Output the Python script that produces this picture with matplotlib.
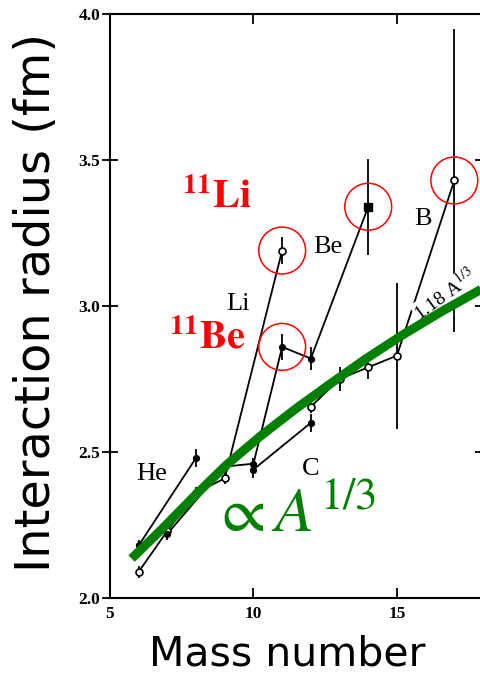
import numpy as np
import matplotlib
matplotlib.use("Agg")
import matplotlib.pyplot as plt

plt.rcParams["mathtext.fontset"] = "stix"

# interaction radii (fm) by isotope chain, read per mass number
he_A = [6, 8]
he_R = [2.18, 2.48]
he_err = [0.02, 0.03]

li_A = [6, 7, 8, 9, 11]
li_R = [2.09, 2.23, 2.36, 2.41, 3.19]
li_err = [0.02, 0.02, 0.02, 0.02, 0.045]

be_A = [7, 9, 10, 11, 12, 14]
be_R = [2.22, 2.45, 2.46, 2.86, 2.82, 3.34]
be_err = [0.02, 0.02, 0.02, 0.045, 0.04, 0.165]

b_A = [12, 13, 14, 15, 17]
b_R = [2.655, 2.75, 2.79, 2.83, 3.43]
b_err = [0.02, 0.04, 0.04, 0.25, 0.52]

c_A = [10, 12]
c_R = [2.44, 2.60]
c_err = [0.03, 0.03]

# halo nuclei picked out with red rings
halo = [(li_A[4], li_R[4]), (be_A[5], be_R[5]), (b_A[4], b_R[4]), (be_A[3], be_R[3])]

# hand-drawn A^(1/3) guide
guide_A = [5.75, 6.75, 7.9, 9.05, 10.25, 11.5, 12.7, 13.9, 15.1, 16.5, 17.95]
guide_R = [2.135, 2.23, 2.345, 2.455, 2.555, 2.65, 2.735, 2.818, 2.895, 2.978, 3.058]

x_ticks = [5, 10, 15]
y_ticks = [2.0, 2.5, 3.0, 3.5, 4.0]

fig = plt.figure(figsize=(4.81, 6.75), dpi=100)
ax = fig.add_axes([110 / 481, 77 / 675, 373 / 481, 584 / 675])
ax.set_xlim(5, 18)
ax.set_ylim(2.0, 4.0)

serif = "Liberation Serif"
lk = dict(color="black", lw=1.3, zorder=3)

def chain(A, R, err, filled, marker="o"):
    ax.plot(A, R, **lk)
    ax.errorbar(A, R, yerr=err, fmt="none", ecolor="black", elinewidth=1.3, zorder=3)
    ax.plot(A, R, linestyle="none", marker=marker, ms=5 if not filled else 4,
            mfc="black" if filled else "white", mec="black", mew=1.2, zorder=4)

chain(he_A, he_R, he_err, True)
chain(li_A, li_R, li_err, False)
chain(be_A, be_R, be_err, True)
ax.plot([be_A[5]], [be_R[5]], marker="s", ms=6, color="black", zorder=5)
chain(c_A, c_R, c_err, True)
chain(b_A, b_R, b_err, False)

# element names
for name, x, y in [("He", 6.46, 2.425), ("Li", 9.46, 3.007), ("Be", 12.6, 3.202),
                   ("B", 15.9, 3.298), ("C", 12.0, 2.442)]:
    ax.text(x, y, name, family=serif, fontsize=19, ha="center", va="center", zorder=6)

ax.text(16.67, 3.04, r"1.18 A$^{1/3}$", family=serif, fontsize=14, rotation=36,
        ha="center", va="center", zorder=5,
        bbox=dict(facecolor="white", edgecolor="none", pad=0.3))

ax.plot(guide_A, guide_R, color="#008000", lw=6.5, solid_capstyle="butt", zorder=7)

hx, hy = zip(*halo)
ax.scatter(hx, hy, s=1140, facecolors="none", edgecolors="red", linewidths=1.1, zorder=8)

ax.text(8.73, 3.373, r"$^{\mathbf{11}}\mathbf{Li}$", color="red", fontsize=29,
        ha="center", va="center", zorder=9)
ax.text(8.38, 2.894, r"$^{\mathbf{11}}\mathbf{Be}$", color="red", fontsize=29,
        ha="center", va="center", zorder=9)
ax.text(11.4, 2.288, r"$\propto A^{1/3}$", color="#008000", fontsize=46,
        ha="center", va="center", zorder=9)

ax.set_xticks(x_ticks)
ax.set_xticklabels([str(v) for v in x_ticks])
ax.set_yticks(y_ticks)
ax.set_yticklabels([f"{v:.1f}" for v in y_ticks])
ax.tick_params(axis="x", direction="in", top=True, length=7, width=1.3, pad=6)
ax.tick_params(axis="y", direction="inout", right=True, length=12, width=1.3, pad=1)
for lab in ax.get_xticklabels() + ax.get_yticklabels():
    lab.set_family(serif)
    lab.set_fontweight("bold")
    lab.set_fontsize(12.5)
for sp in ax.spines.values():
    sp.set_linewidth(1.5)

fig.text(37 / 481, 1 - 302 / 675, "Interaction radius (fm)", rotation=90,
         ha="center", va="center", fontsize=34.5, family="DejaVu Sans")
fig.text(287 / 481, 1 - 654 / 675, "Mass number", ha="center", va="center",
         fontsize=29.5, family="DejaVu Sans")

fig.savefig("out.png", dpi=100)
